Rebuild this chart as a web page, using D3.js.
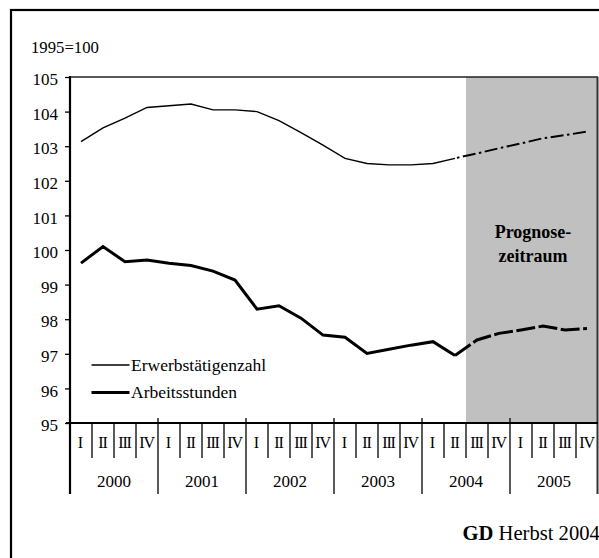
<!DOCTYPE html>
<html>
<head>
<meta charset="utf-8">
<script src="https://cdn.jsdelivr.net/npm/d3@7"></script>
<style>
  body { margin: 0; background: #fff; }
  svg { display: block; font-family: "Liberation Serif", "Times New Roman", serif; }
</style>
</head>
<body>
<svg id="chart" width="599" height="558"></svg>
<script>
// ---- data ----
const years = ["2000", "2001", "2002", "2003", "2004", "2005"];
const quarters = ["I", "II", "III", "IV"];
const erwerbstaetige = [103.13, 103.53, 103.81, 104.12, 104.17, 104.22, 104.05, 104.05,
                        104.00, 103.74, 103.39, 103.03, 102.65, 102.50, 102.46, 102.46,
                        102.50, 102.65, 102.79, 102.94, 103.08, 103.23, 103.32, 103.42];
const arbeitsstunden = [99.62, 100.10, 99.66, 99.71, 99.62, 99.55, 99.39, 99.13,
                        98.29, 98.39, 98.03, 97.54, 97.48, 97.01, 97.13, 97.25,
                        97.35, 96.95, 97.40, 97.59, 97.69, 97.80, 97.69, 97.73];
const yTicks = [95, 96, 97, 98, 99, 100, 101, 102, 103, 104, 105];
const forecastFrom = "2004-III";   // first quarter of the shaded forecast period
const lastActual = "2004-II";      // forecast lines start here
const seriesNames = ["Erwerbstätigenzahl", "Arbeitsstunden"];

// ---- setup ----
const keys = [];
years.forEach(y => quarters.forEach(q => keys.push(y + "-" + q)));

const svg = d3.select("#chart");
const x = d3.scaleBand().domain(keys).range([70, 598]).paddingInner(0).paddingOuter(0);
const y = d3.scaleLinear().domain([95, 105]).range([423, 77]);
const xc = k => x(k) + x.bandwidth() / 2;

// outer frame (extends beyond the window)
svg.append("rect").attr("x", 11).attr("y", 10).attr("width", 640).attr("height", 600)
  .attr("fill", "none").attr("stroke", "#000").attr("stroke-width", 2.2);

// shaded forecast region
svg.append("rect")
  .attr("x", x(forecastFrom)).attr("y", y(105))
  .attr("width", x.range()[1] - x(forecastFrom)).attr("height", y(95) - y(105))
  .attr("fill", "#c0c0c0");

// plot border top & right
svg.append("line").attr("x1", 70).attr("x2", 598).attr("y1", y(105)).attr("y2", y(105))
  .attr("stroke", "#222").attr("stroke-width", 1.3);
svg.append("line").attr("x1", 597.5).attr("x2", 597.5).attr("y1", y(105)).attr("y2", 494)
  .attr("stroke", "#333").attr("stroke-width", 2);

// y axis
const yAxis = d3.axisLeft(y).tickValues(yTicks).tickSize(5).tickFormat(d3.format("d"));
const gy = svg.append("g").attr("transform", "translate(70,0)").call(yAxis);
gy.select(".domain").remove();
gy.selectAll(".tick line").attr("stroke", "#000").attr("stroke-width", 1.3).attr("x2", -5).attr("x1", 1);
gy.selectAll(".tick text").attr("x", -12).attr("dy", "0.45em")
  .attr("font-size", 17).attr("fill", "#000")
  .attr("font-family", "'Liberation Serif', serif");
svg.append("line").attr("x1", 70).attr("x2", 70).attr("y1", y(105) - 1).attr("y2", 494)
  .attr("stroke", "#000").attr("stroke-width", 2.2);

svg.append("text").attr("x", 31).attr("y", 53).attr("font-size", 16.7).text("1995=100");

// x axis
svg.append("line").attr("x1", 66).attr("x2", 598).attr("y1", y(95)).attr("y2", y(95))
  .attr("stroke", "#000").attr("stroke-width", 2);

// quarter separators
svg.append("g").selectAll("line").data(keys.filter(k => !k.endsWith("-I")))
  .join("line")
  .attr("x1", d => x(d)).attr("x2", d => x(d))
  .attr("y1", y(95)).attr("y2", 458)
  .attr("stroke", "#000").attr("stroke-width", 1.3);
// year separators
svg.append("g").selectAll("line").data(years.slice(1))
  .join("line")
  .attr("x1", d => x(d + "-I")).attr("x2", d => x(d + "-I"))
  .attr("y1", 418).attr("y2", 494)
  .attr("stroke", "#000").attr("stroke-width", 1.3);

// quarter labels
svg.append("g").selectAll("text").data(keys).join("text")
  .attr("x", d => xc(d) - 0.5).attr("y", 448)
  .attr("text-anchor", "middle").attr("font-size", 16)
  .attr("letter-spacing", d => d.split("-")[1].length > 1 ? -1.2 : 0)
  .text(d => d.split("-")[1]);

// year labels
svg.append("g").selectAll("text").data(years).join("text")
  .attr("x", d => (x(d + "-I") + x(d + "-IV") + x.bandwidth()) / 2)
  .attr("y", 487).attr("text-anchor", "middle").attr("font-size", 17)
  .text(d => d);

// lines
const iLast = keys.indexOf(lastActual);
const line = d3.line().x(d => xc(d.k)).y(d => y(d.v));
const toPts = arr => arr.map((v, i) => ({ k: keys[i], v }));
const ePts = toPts(erwerbstaetige), aPts = toPts(arbeitsstunden);

svg.append("path").attr("d", line(ePts.slice(0, iLast + 1)))
  .attr("fill", "none").attr("stroke", "#000").attr("stroke-width", 1.4);
svg.append("path").attr("d", line(ePts.slice(iLast)))
  .attr("fill", "none").attr("stroke", "#000").attr("stroke-width", 2)
  .attr("stroke-dasharray", "13,3.5,2.5,3.5").attr("stroke-dashoffset", -8);

svg.append("path").attr("d", line(aPts.slice(0, iLast + 1)))
  .attr("fill", "none").attr("stroke", "#000").attr("stroke-width", 3).attr("stroke-linejoin", "miter");
svg.append("path").attr("d", line(aPts.slice(iLast)))
  .attr("fill", "none").attr("stroke", "#000").attr("stroke-width", 3)
  .attr("stroke-dasharray", "19,3.5");

// legend
const legend = svg.append("g");
[[365, 1.4], [392.5, 3]].forEach((d, i) => {
  legend.append("line").attr("x1", 91.5).attr("x2", 129.5).attr("y1", d[0]).attr("y2", d[0])
    .attr("stroke", "#000").attr("stroke-width", d[1]);
  legend.append("text").attr("x", 131).attr("y", d[0] + 5.5).attr("font-size", 17.5)
    .text(seriesNames[i]);
});

// forecast label
const cx = (x(forecastFrom) + x.range()[1]) / 2;
svg.append("text").attr("x", cx + 1).attr("y", 238).attr("text-anchor", "middle")
  .attr("font-size", 18).attr("font-weight", "bold").text("Prognose-");
svg.append("text").attr("x", cx + 1).attr("y", 262).attr("text-anchor", "middle")
  .attr("font-size", 18).attr("font-weight", "bold").text("zeitraum");

// source
const src = svg.append("text").attr("x", 462.5).attr("y", 540).attr("font-size", 20.6);
src.append("tspan").attr("font-weight", "bold").text("GD");
src.append("tspan").text(" Herbst 2004");
</script>
</body>
</html>
